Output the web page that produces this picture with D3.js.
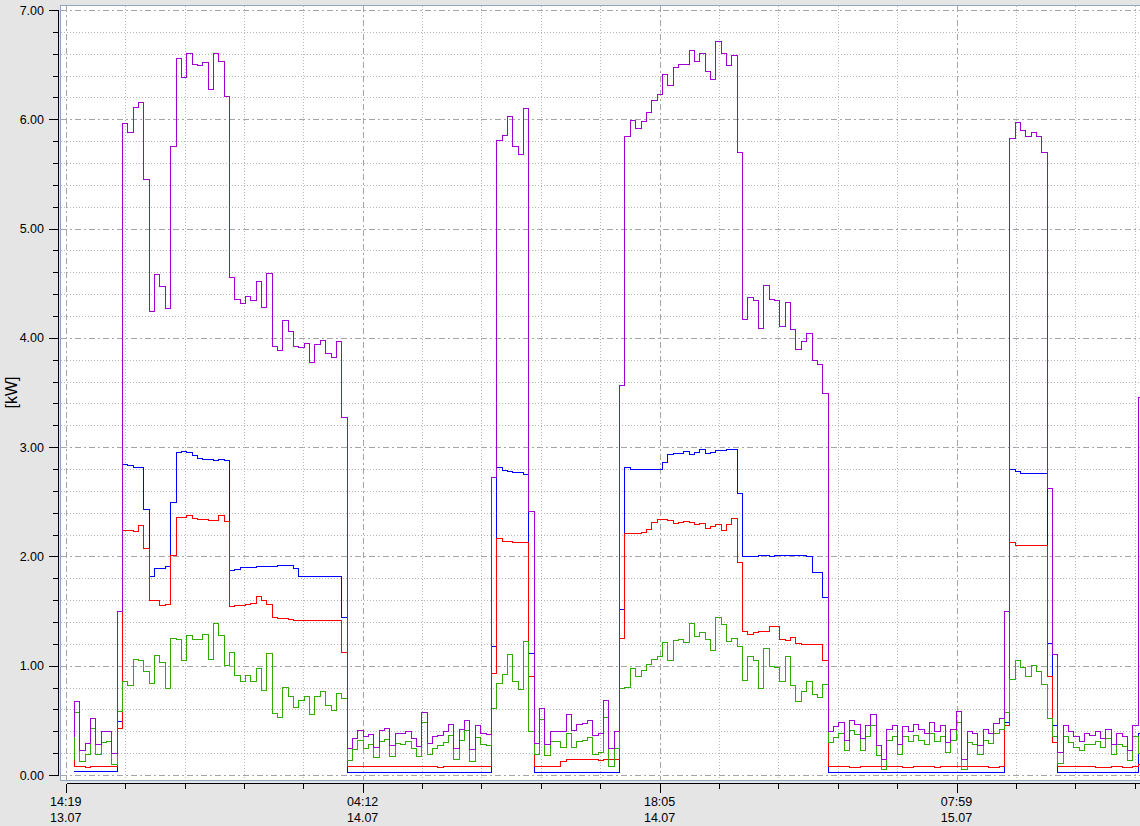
<!DOCTYPE html>
<html><head><meta charset="utf-8">
<script src="https://cdn.jsdelivr.net/npm/d3@7/dist/d3.min.js"></script>
<style>html,body{margin:0;padding:0;background:#e4e4e4;}svg{display:block;}</style>
</head><body>
<svg id="chart" width="1140" height="826"></svg>
<script>
// ---- data (15-minute readings, value[0] is the opening reading) ----
const startTime = Date.UTC(2010, 6, 13, 14, 43, 30);
const stepMinutes = 15;

const purpleValues = [0.35,
 0.67,0.22,0.29,0.52,0.28,0.40,0.40,0.20,1.50,
 5.96,5.88,6.11,6.15,5.45,4.24,4.58,4.47,4.27,5.75,6.56,6.38,6.60,6.50,6.49,6.52,6.27,6.60,6.53,6.21,
 4.55,4.35,4.31,4.38,4.34,4.52,4.28,4.59,3.92,3.88,4.16,4.06,3.92,3.91,3.95,3.77,3.94,3.98,3.86,3.82,3.97,3.27,
 0.24,0.33,0.41,0.35,0.37,0.25,0.41,0.43,0.27,0.38,0.38,0.40,0.33,0.26,0.57,0.29,0.35,0.36,0.40,0.46,0.24,0.42,0.50,0.23,0.45,0.38,0.37,
 2.72,5.81,5.85,6.03,5.75,5.68,6.10,2.41,
 0.29,0.61,0.28,0.40,0.40,0.40,0.55,0.41,0.46,0.47,0.50,0.36,0.38,0.68,0.24,0.40,
 3.56,5.84,5.99,5.92,5.98,6.06,6.17,6.23,6.41,6.31,6.47,6.50,6.50,6.63,6.53,6.60,6.44,6.36,6.71,6.60,6.49,6.58,5.70,
 4.17,4.37,4.34,4.09,4.48,4.35,4.34,4.10,4.32,4.08,3.89,3.97,4.04,3.79,3.76,3.49,
 0.40,0.44,0.48,0.32,0.50,0.46,0.33,0.45,0.55,0.27,0.14,0.42,0.45,0.28,0.44,0.40,0.46,0.42,0.38,0.48,0.40,0.45,0.30,0.42,0.58,0.14,0.40,0.38,0.27,0.42,0.38,0.47,0.52,
 1.50,5.82,5.97,5.90,5.84,5.88,5.84,5.70,2.62,1.10,
 0.21,0.45,0.40,0.35,0.31,0.38,0.36,0.40,0.33,0.42,0.28,0.38,0.35,0.22,0.45,
 3.45];

const blueValues = [0.03,
 0.03,0.03,0.03,0.03,0.03,0.03,0.03,0.03,0.49,
 2.84,2.83,2.81,2.81,2.43,1.82,1.89,1.89,1.91,2.49,2.95,2.96,2.95,2.92,2.90,2.89,2.89,2.88,2.89,2.88,
 1.87,1.88,1.90,1.90,1.90,1.91,1.91,1.91,1.91,1.92,1.92,1.92,1.89,1.82,1.82,1.82,1.82,1.82,1.82,1.82,1.82,1.44,
 0.02,0.02,0.02,0.02,0.02,0.02,0.02,0.02,0.02,0.02,0.02,0.02,0.02,0.02,0.02,0.02,0.02,0.02,0.02,0.02,0.02,0.02,0.02,0.02,0.02,0.02,0.02,
 1.18,2.81,2.79,2.78,2.77,2.77,2.75,1.11,
 0.02,0.02,0.02,0.02,0.02,0.02,0.02,0.02,0.02,0.02,0.02,0.02,0.02,0.02,0.02,0.02,
 1.51,2.81,2.80,2.80,2.80,2.80,2.80,2.80,2.86,2.93,2.94,2.94,2.96,2.93,2.95,2.98,2.94,2.95,2.97,2.97,2.98,2.98,2.58,
 2.00,2.00,2.00,2.01,2.01,2.00,2.01,2.01,2.01,2.01,2.01,2.01,2.00,1.85,1.85,1.62,
 0.02,0.02,0.02,0.02,0.02,0.02,0.02,0.02,0.02,0.02,0.02,0.02,0.02,0.02,0.02,0.02,0.02,0.02,0.02,0.02,0.02,0.02,0.02,0.02,0.02,0.02,0.02,0.02,0.02,0.02,0.02,0.02,0.02,
 0.48,2.80,2.78,2.76,2.76,2.76,2.76,2.76,1.20,0.45,
 0.02,0.02,0.02,0.02,0.02,0.02,0.02,0.02,0.02,0.02,0.02,0.02,0.02,0.02,0.02,
 0.38];

const redValues = [0.14,
 0.08,0.08,0.07,0.08,0.08,0.08,0.08,0.08,0.43,
 2.24,2.24,2.23,2.28,2.07,1.60,1.60,1.55,1.56,2.01,2.36,2.36,2.37,2.35,2.34,2.34,2.33,2.33,2.37,2.32,
 1.54,1.55,1.55,1.56,1.57,1.63,1.60,1.56,1.44,1.43,1.43,1.42,1.41,1.41,1.41,1.41,1.41,1.41,1.41,1.41,1.41,1.12,
 0.08,0.08,0.08,0.08,0.08,0.08,0.08,0.08,0.08,0.08,0.08,0.08,0.08,0.08,0.08,0.08,0.08,0.07,0.08,0.08,0.08,0.08,0.08,0.08,0.08,0.08,0.08,
 0.93,2.16,2.14,2.14,2.13,2.13,2.13,0.90,
 0.08,0.08,0.08,0.08,0.08,0.125,0.145,0.145,0.145,0.145,0.145,0.145,0.137,0.145,0.145,0.145,
 1.25,2.21,2.21,2.21,2.22,2.25,2.31,2.34,2.34,2.33,2.30,2.31,2.32,2.31,2.29,2.30,2.26,2.27,2.29,2.24,2.29,2.35,1.94,
 1.31,1.29,1.30,1.31,1.31,1.36,1.36,1.24,1.23,1.26,1.20,1.19,1.19,1.19,1.19,1.05,
 0.08,0.08,0.08,0.08,0.07,0.07,0.08,0.08,0.08,0.08,0.08,0.08,0.08,0.08,0.07,0.07,0.08,0.08,0.08,0.08,0.07,0.08,0.08,0.08,0.08,0.08,0.08,0.08,0.08,0.08,0.07,0.07,0.08,
 0.45,2.13,2.10,2.10,2.10,2.10,2.10,2.10,0.90,0.30,
 0.08,0.08,0.08,0.08,0.08,0.08,0.08,0.07,0.07,0.07,0.08,0.08,0.07,0.07,0.08,
 0.10];

const greenValues = [0.14,
 0.575,0.12,0.19,0.43,0.19,0.30,0.31,0.10,0.58,
 0.86,0.82,1.06,1.05,0.95,0.84,1.09,1.03,0.79,1.25,1.24,1.05,1.28,1.24,1.24,1.29,1.06,1.39,1.28,1.00,
 1.12,0.91,0.86,0.91,0.86,0.97,0.77,1.11,0.56,0.53,0.80,0.72,0.62,0.68,0.72,0.55,0.72,0.76,0.64,0.59,0.75,0.70,
 0.135,0.235,0.317,0.244,0.28,0.156,0.31,0.326,0.17,0.29,0.28,0.31,0.244,0.17,0.477,0.19,0.244,0.27,0.30,0.36,0.143,0.317,0.41,0.125,0.345,0.28,0.27,
 0.61,0.84,0.92,1.10,0.86,0.785,1.22,0.40,
 0.19,0.51,0.18,0.31,0.31,0.25,0.38,0.25,0.31,0.317,0.345,0.19,0.21,0.53,0.08,0.244,
 0.79,0.80,0.97,0.90,0.96,1.01,1.06,1.08,1.21,1.05,1.23,1.24,1.21,1.39,1.27,1.30,1.24,1.14,1.44,1.38,1.22,1.25,1.18,
 0.865,1.08,1.05,0.79,1.16,0.99,0.98,0.86,1.08,0.82,0.67,0.76,0.86,0.74,0.71,0.83,
 0.30,0.34,0.38,0.22,0.41,0.37,0.22,0.35,0.45,0.18,0.05,0.32,0.35,0.19,0.35,0.31,0.36,0.32,0.28,0.38,0.31,0.35,0.21,0.32,0.48,0.05,0.30,0.28,0.185,0.32,0.29,0.38,0.42,
 0.57,0.87,1.05,0.98,0.90,1.00,0.95,0.83,0.52,0.35,
 0.107,0.35,0.30,0.25,0.22,0.28,0.28,0.31,0.25,0.33,0.19,0.28,0.26,0.13,0.35,
 0.20];

const yTickValues = [0, 1, 2, 3, 4, 5, 6, 7];
const xTickLabels = [["14:19", "13.07"], ["04:12", "14.07"], ["18:05", "14.07"], ["07:59", "15.07"]];
const axisOrigin = Date.UTC(2010, 6, 13, 14, 19, 0);
const tickStepSeconds = 10000;
const yAxisTitle = "[kW]";

// ---- layout ----
const W = 1140, H = 826;
const plotL = 61, plotR = 1140, plotT = 6, plotB = 780;
const svg = d3.select("#chart");

const x = d3.scaleUtc()
  .domain([new Date(axisOrigin - 800e3), new Date(axisOrigin + 180900e3)])
  .range([plotL, plotR]);
const y = d3.scaleLinear().domain([0, 7]).range([775, 10]);

svg.append("rect").attr("width", W).attr("height", H).attr("fill", "#e5e5e5");

svg.append("rect").attr("x", plotL - 0.5).attr("y", plotT - 0.5)
  .attr("width", plotR - plotL + 10).attr("height", plotB - plotT + 1)
  .attr("fill", "#ffffff").attr("stroke", "#8ea7c0").attr("stroke-width", 1);

const grid = svg.append("g").attr("shape-rendering", "crispEdges");
const minorY = d3.range(0, 7.0001, 0.2).map(v => +v.toFixed(1));
minorY.forEach(v => {
  const major = Math.abs(v - Math.round(v)) < 1e-6;
  grid.append("line")
    .attr("x1", plotL).attr("x2", plotR)
    .attr("y1", Math.round(y(v)) + 0.5).attr("y2", Math.round(y(v)) + 0.5)
    .attr("stroke", major ? "#a4a4a4" : "#b8b8b8")
    .attr("stroke-dasharray", major ? "6,3,2,3" : "1,2");
});
const tickTimes = d3.range(0, 19).map(k => new Date(axisOrigin + k * tickStepSeconds * 1000));
tickTimes.forEach((t, k) => {
  const major = k % 5 === 0;
  const xx = Math.round(x(t)) + 0.5;
  grid.append("line").attr("x1", xx).attr("x2", xx).attr("y1", plotT).attr("y2", plotB)
    .attr("stroke", major ? "#a4a4a4" : "#b8b8b8")
    .attr("stroke-dasharray", major ? "6,3,2,3" : "1,2");
});

const seriesList = [
  {vals: blueValues, color: "#0000ff"},
  {vals: redValues, color: "#ff0000"},
  {vals: greenValues, color: "#33aa00"},
  {vals: purpleValues, color: "#a000d2"}
];
svg.append("clipPath").attr("id", "clip").append("rect")
  .attr("x", plotL).attr("y", plotT).attr("width", plotR - plotL).attr("height", plotB - plotT);
const line = d3.line()
  .x(d => x(d.t)).y(d => y(d.v))
  .curve(d3.curveStepBefore);
const gLines = svg.append("g").attr("clip-path", "url(#clip)");
seriesList.forEach(s => {
  const pts = s.vals.map((v, j) => ({t: new Date(startTime + j * stepMinutes * 60000), v}));
  gLines.append("path").datum(pts).attr("d", line)
    .attr("fill", "none").attr("stroke", s.color).attr("stroke-width", 1)
    .attr("shape-rendering", "crispEdges");
});

const ax = svg.append("g").attr("shape-rendering", "crispEdges");
ax.append("line").attr("x1", 58.5).attr("x2", 58.5).attr("y1", y(7)).attr("y2", y(0) + 1)
  .attr("stroke", "#000");
minorY.forEach(v => {
  const major = Math.abs(v - Math.round(v)) < 1e-6;
  const yy = Math.round(y(v)) + 0.5;
  ax.append("line").attr("x1", major ? 49 : 53).attr("x2", 58.5).attr("y1", yy).attr("y2", yy).attr("stroke", "#000");
});
yTickValues.forEach(v => {
  svg.append("text").attr("x", 44).attr("y", y(v) + 4.5)
    .attr("text-anchor", "end").attr("font-family", "Liberation Sans, Arial, sans-serif")
    .attr("font-size", 12.5).attr("fill", "#000").text(d3.format(".2f")(v));
});
svg.append("text").attr("transform", `translate(17,${y(3.5)}) rotate(-90)`)
  .attr("text-anchor", "middle").attr("font-family", "Liberation Sans, Arial, sans-serif")
  .attr("font-size", 16).attr("fill", "#000").text(yAxisTitle);

const xAxisY = 783.5;
ax.append("line").attr("x1", Math.round(x(tickTimes[0])) + 0.5).attr("x2", W)
  .attr("y1", xAxisY).attr("y2", xAxisY).attr("stroke", "#000");
tickTimes.forEach((t, k) => {
  const major = k % 5 === 0;
  const xx = Math.round(x(t)) + 0.5;
  ax.append("line").attr("x1", xx).attr("x2", xx).attr("y1", xAxisY).attr("y2", xAxisY + (major ? 9 : 5))
    .attr("stroke", "#000");
  if (major) {
    const lab = xTickLabels[k / 5];
    const txt = svg.append("text").attr("x", x(t)).attr("text-anchor", "middle")
      .attr("font-family", "Liberation Sans, Arial, sans-serif").attr("font-size", 12.5).attr("fill", "#000");
    txt.append("tspan").attr("x", x(t)).attr("y", 806).text(lab[0]);
    txt.append("tspan").attr("x", x(t)).attr("y", 822).text(lab[1]);
  }
});
</script>
</body></html>
